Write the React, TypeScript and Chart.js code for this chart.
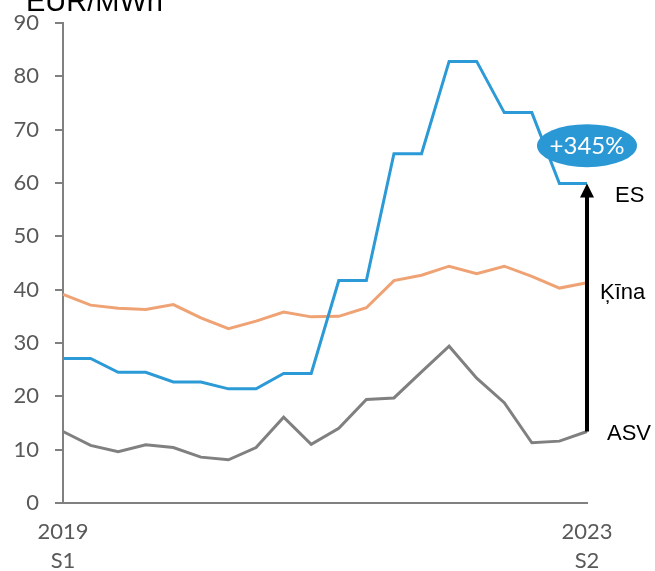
import React, { useEffect, useRef } from "react";
import { Chart, registerables } from "chart.js";

Chart.register(...registerables);

const categories: string[][] = [
  ["2019", "S1"], [], [], [], [], [], [], [], [], [],
  [], [], [], [], [], [], [], [], [], ["2023", "S2"],
];
const esValues = [27.1, 27.1, 24.5, 24.5, 22.7, 22.7, 21.4, 21.4, 24.3, 24.3, 41.7, 41.7, 65.5, 65.5, 82.8, 82.8, 73.2, 73.2, 59.9, 59.9];
const kinaValues = [39.1, 37.1, 36.5, 36.3, 37.2, 34.7, 32.7, 34.1, 35.8, 34.9, 35.0, 36.6, 41.7, 42.7, 44.4, 43.0, 44.4, 42.5, 40.3, 41.3];
const asvValues = [13.4, 10.8, 9.6, 10.9, 10.4, 8.6, 8.1, 10.4, 16.1, 11.0, 14.0, 19.4, 19.7, 24.6, 29.4, 23.4, 18.8, 11.3, 11.6, 13.4];
const seriesNames = ["ES", "Ķīna", "ASV"];
const unitLabel = "EUR/MWh";
const changeLabel = "+345%";
const yTicksMax = 90;
const yTickStep = 10;

const BLUE = "#2B9AD6";
const ORANGE = "#EFA274";
const GRAY = "#808080";
const TICK_FONT = "Lato, 'Open Sans', sans-serif";

export default function App() {
  const ref = useRef<HTMLCanvasElement | null>(null);
  useEffect(() => {
    if (!ref.current) return;
    const annot = {
      id: "annot",
      afterDraw(chart: any) {
        const ctx = chart.ctx;
        const x = chart.scales.x;
        const y = chart.scales.y;
        const last = esValues.length - 1;
        const lx = x.getPixelForValue(last);
        ctx.save();
        // unit label
        ctx.fillStyle = "#000";
        ctx.font = "29px 'Liberation Sans', Arial, sans-serif";
        ctx.textAlign = "left";
        ctx.textBaseline = "alphabetic";
        ctx.fillText(unitLabel, 26, 11);
        // arrow
        const yTop = y.getPixelForValue(esValues[last]);
        const yBot = y.getPixelForValue(asvValues[last]);
        ctx.strokeStyle = "#000";
        ctx.lineWidth = 4;
        ctx.beginPath();
        ctx.moveTo(lx, yBot);
        ctx.lineTo(lx, yTop + 12);
        ctx.stroke();
        ctx.fillStyle = "#000";
        ctx.beginPath();
        ctx.moveTo(lx, yTop);
        ctx.lineTo(lx - 7, yTop + 14);
        ctx.lineTo(lx + 7, yTop + 14);
        ctx.closePath();
        ctx.fill();
        // ellipse
        const ey = y.getPixelForValue(67);
        ctx.fillStyle = "#2A98D5";
        ctx.beginPath();
        ctx.ellipse(lx, ey, 50, 21.5, 0, 0, Math.PI * 2);
        ctx.fill();
        ctx.fillStyle = "#fff";
        ctx.font = "24px " + TICK_FONT;
        ctx.textAlign = "center";
        ctx.textBaseline = "middle";
        ctx.fillText(changeLabel, lx, ey + 1);
        // series labels
        ctx.fillStyle = "#000";
        ctx.font = "22px 'Liberation Sans', Arial, sans-serif";
        ctx.textAlign = "left";
        ctx.fillText(seriesNames[0], lx + 28, y.getPixelForValue(esValues[last]) + 12);
        ctx.fillText(seriesNames[1], lx + 13, y.getPixelForValue(kinaValues[last]) + 10);
        ctx.fillText(seriesNames[2], lx + 20, y.getPixelForValue(asvValues[last]) + 2);
        ctx.restore();
      },
    };
    const chart = new Chart(ref.current, {
      type: "line",
      data: {
        labels: categories,
        datasets: [
          { label: seriesNames[0], data: esValues, borderColor: BLUE, borderWidth: 3, pointRadius: 0, tension: 0 },
          { label: seriesNames[1], data: kinaValues, borderColor: ORANGE, borderWidth: 3, pointRadius: 0, tension: 0 },
          { label: seriesNames[2], data: asvValues, borderColor: GRAY, borderWidth: 3, pointRadius: 0, tension: 0 },
        ],
      },
      options: {
        animation: false,
        responsive: false,
        layout: { padding: { left: 0, right: 68, top: 23, bottom: 0 } },
        plugins: { legend: { display: false }, tooltip: { enabled: false } },
        scales: {
          x: {
            offset: false,
            grid: { display: false },
            border: { display: true, color: GRAY, width: 2 },
            ticks: {
              autoSkip: false,
              maxRotation: 0,
              padding: 7,
              color: "#595959",
              font: { family: TICK_FONT, size: 22, lineHeight: 1.3 },
            },
            afterFit: (s: any) => { s.height = 68; },
          },
          y: {
            min: 0,
            max: yTicksMax,
            grid: { display: true, drawOnChartArea: false, drawTicks: true, tickLength: 8, color: GRAY, lineWidth: 2 },
            border: { display: true, color: GRAY, width: 2 },
            ticks: {
              stepSize: yTickStep,
              padding: 16,
              color: "#595959",
              font: { family: TICK_FONT, size: 22 },
            },
            afterFit: (s: any) => { s.width = 63; s.paddingTop = 2; s.paddingBottom = 2; },
          },
        },
      },
      plugins: [annot],
    });
    return () => chart.destroy();
  }, []);
  return (
    <div style={{ position: "fixed", left: 0, top: 0, width: 655, height: 571, background: "#fff" }}>
      <canvas ref={ref} width={655} height={571} style={{ width: 655, height: 571 }} />
    </div>
  );
}
